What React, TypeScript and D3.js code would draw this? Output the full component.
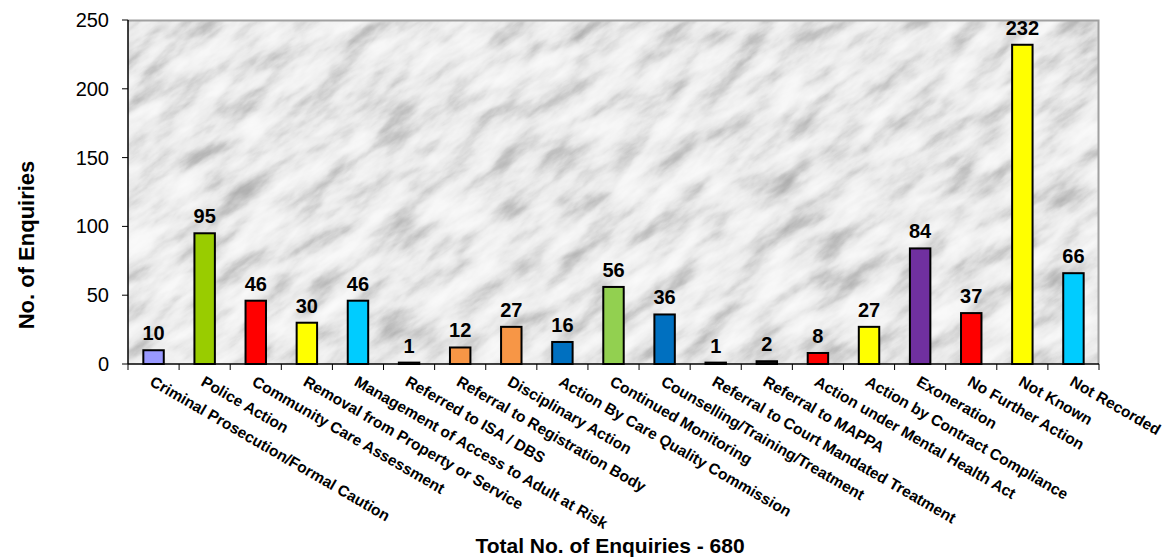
import * as d3 from 'd3';
import { useEffect, useRef } from 'react';

const categories = [
  'Criminal Prosecution/Formal Caution',
  'Police Action',
  'Community Care Assessment',
  'Removal from Property or Service',
  'Management of Access to Adult at Risk',
  'Referred to ISA / DBS',
  'Referral to Registration Body',
  'Disciplinary Action',
  'Action By Care Quality Commission',
  'Continued Monitoring',
  'Counselling/Training/Treatment',
  'Referral to Court Mandated Treatment',
  'Referral to MAPPA',
  'Action under Mental Health Act',
  'Action by Contract Compliance',
  'Exoneration',
  'No Further Action',
  'Not Known',
  'Not Recorded',
];

const values = [10, 95, 46, 30, 46, 1, 12, 27, 16, 56, 36, 1, 2, 8, 27, 84, 37, 232, 66];

const colors = [
  '#9999ff', '#99cc00', '#ff0000', '#ffff00', '#00ccff', '#111111', '#f79646',
  '#f79646', '#0070c0', '#92d050', '#0070c0', '#111111', '#111111', '#ff0000',
  '#ffff00', '#7030a0', '#ff0000', '#ffff00', '#00ccff',
];

const yTicks = [0, 50, 100, 150, 200, 250];

const font = 'Arial, "Liberation Sans", sans-serif';

export default function App() {
  const svgRef = useRef<SVGSVGElement>(null);

  useEffect(() => {
    const svgEl = svgRef.current;
    if (!svgEl) return;

    const width = 1165;
    const height = 560;
    const margin = { top: 20, right: 66, bottom: 196, left: 128 };
    const innerW = width - margin.left - margin.right;
    const innerH = height - margin.top - margin.bottom;

    const svg = d3.select(svgEl);
    svg.selectAll('*').remove();

    const defs = svg.append('defs');
    const filter = defs
      .append('filter')
      .attr('id', 'marble')
      .attr('filterUnits', 'userSpaceOnUse')
      .attr('x', -700)
      .attr('y', -500)
      .attr('width', 1400)
      .attr('height', 1000)
      .attr('color-interpolation-filters', 'sRGB');
    filter
      .append('feTurbulence')
      .attr('type', 'fractalNoise')
      .attr('baseFrequency', '0.018 0.05')
      .attr('numOctaves', 5)
      .attr('seed', 11)
      .attr('result', 'noise');
    filter
      .append('feColorMatrix')
      .attr('in', 'noise')
      .attr('type', 'matrix')
      .attr('values', '1 0 0 0 0  1 0 0 0 0  1 0 0 0 0  0 0 0 0 1');
    filter.append('feComponentTransfer').call((fc) => {
      ['feFuncR', 'feFuncG', 'feFuncB'].forEach((f) =>
        fc
          .append(f)
          .attr('type', 'table')
          .attr('tableValues', '0.66 0.71 0.78 0.86 0.92 0.95 0.97 0.98 0.99')
      );
    });

    defs
      .append('clipPath')
      .attr('id', 'plotClip')
      .append('rect')
      .attr('width', innerW)
      .attr('height', innerH);

    const g = svg.append('g').attr('transform', `translate(${margin.left},${margin.top})`);

    const x = d3
      .scaleBand<string>()
      .domain(categories)
      .range([0, innerW])
      .paddingInner(0.6)
      .paddingOuter(0.3);
    const y = d3.scaleLinear().domain([0, 250]).range([innerH, 0]);

    // marble background
    const bg = g.append('g').attr('clip-path', 'url(#plotClip)');
    bg.append('rect').attr('width', innerW).attr('height', innerH).attr('fill', '#ebebed');
    bg.append('g')
      .attr('transform', `translate(${innerW / 2},${innerH / 2}) rotate(-35)`)
      .append('rect')
      .attr('x', -700)
      .attr('y', -500)
      .attr('width', 1400)
      .attr('height', 1000)
      .attr('fill', '#fff')
      .attr('filter', 'url(#marble)');

    // plot border (top/right)
    g.append('path')
      .attr('d', `M0,0.5H${innerW - 0.5}V${innerH}`)
      .attr('fill', 'none')
      .attr('stroke', '#a0a0a0')
      .attr('stroke-width', 2);

    // bars
    g.selectAll('.bar')
      .data(values)
      .join('rect')
      .attr('x', (_, i) => x(categories[i])!)
      .attr('y', (d) => y(d))
      .attr('width', x.bandwidth())
      .attr('height', (d) => innerH - y(d))
      .attr('fill', (_, i) => colors[i])
      .attr('stroke', '#000')
      .attr('stroke-width', 2);

    // value labels
    g.selectAll('.value')
      .data(values)
      .join('text')
      .attr('x', (_, i) => x(categories[i])! + x.bandwidth() / 2)
      .attr('y', (d) => y(d) - 10)
      .attr('text-anchor', 'middle')
      .attr('font-family', font)
      .attr('font-weight', 'bold')
      .attr('font-size', 20)
      .attr('fill', '#000')
      .text((d) => d);

    // y axis
    g.append('line')
      .attr('x1', 0)
      .attr('x2', 0)
      .attr('y1', 0)
      .attr('y2', innerH)
      .attr('stroke', '#000')
      .attr('stroke-width', 1.5);
    g.selectAll('.ytick')
      .data(yTicks)
      .join('line')
      .attr('x1', -6)
      .attr('x2', 0)
      .attr('y1', (d) => y(d))
      .attr('y2', (d) => y(d))
      .attr('stroke', '#000');
    g.selectAll('.ylabel')
      .data(yTicks)
      .join('text')
      .attr('x', -19)
      .attr('y', (d) => y(d))
      .attr('dy', '0.35em')
      .attr('text-anchor', 'end')
      .attr('font-family', font)
      .attr('font-size', 20)
      .attr('fill', '#000')
      .text((d) => d);

    // x axis
    g.append('line')
      .attr('x1', 0)
      .attr('x2', innerW)
      .attr('y1', innerH)
      .attr('y2', innerH)
      .attr('stroke', '#000')
      .attr('stroke-width', 1.5);
    const step = x.step();
    const bounds = d3.range(categories.length + 1).map((i) => i * step);
    g.selectAll('.xtick')
      .data(bounds)
      .join('line')
      .attr('x1', (d) => d)
      .attr('x2', (d) => d)
      .attr('y1', innerH)
      .attr('y2', innerH + 6)
      .attr('stroke', '#000');

    g.selectAll('.xlabel')
      .data(categories)
      .join('text')
      .attr(
        'transform',
        (d) => `translate(${x(d)! + x.bandwidth() / 2 - 2},${innerH + 16}) rotate(30)`
      )
      .attr('dy', '0.35em')
      .attr('text-anchor', 'start')
      .attr('font-family', font)
      .attr('font-weight', 'bold')
      .attr('font-size', 15.5)
      .attr('fill', '#000')
      .text((d) => d);

    // titles
    svg
      .append('text')
      .attr('transform', `translate(34,245) rotate(-90)`)
      .attr('text-anchor', 'middle')
      .attr('font-family', font)
      .attr('font-weight', 'bold')
      .attr('font-size', 22)
      .attr('fill', '#000')
      .text('No. of Enquiries');

    svg
      .append('text')
      .attr('x', 610)
      .attr('y', 553)
      .attr('text-anchor', 'middle')
      .attr('font-family', font)
      .attr('font-weight', 'bold')
      .attr('font-size', 21)
      .attr('fill', '#000')
      .text('Total No. of Enquiries - 680');
  }, []);

  return (
    <svg
      ref={svgRef}
      width={1165}
      height={560}
      style={{ position: 'absolute', left: 0, top: 0, background: '#fff' }}
    />
  );
}
